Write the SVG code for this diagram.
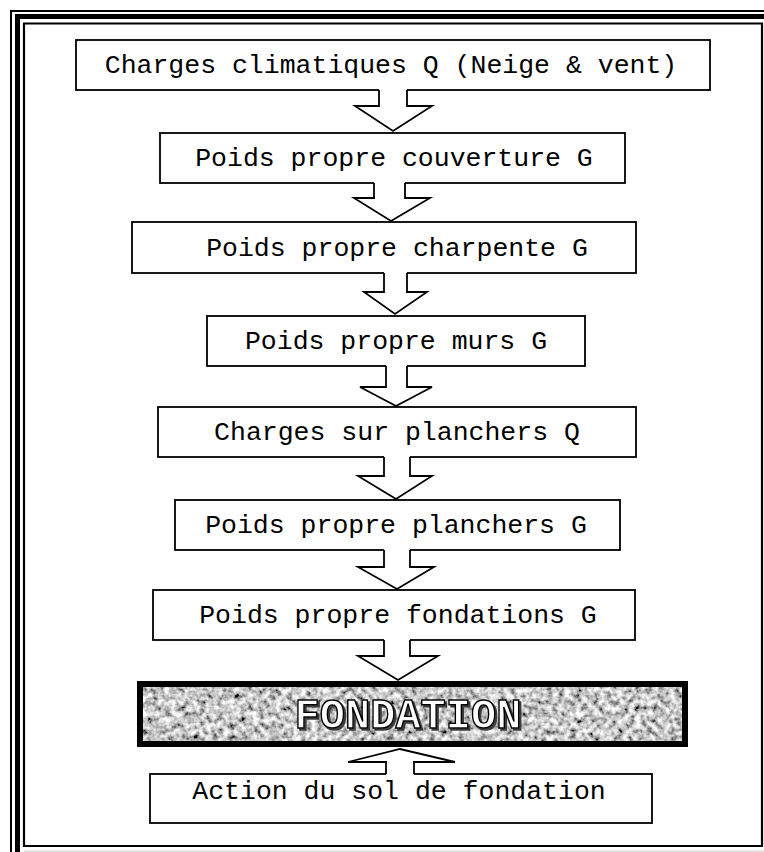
<svg xmlns="http://www.w3.org/2000/svg" width="764" height="852" viewBox="0 0 764 852">
  <style>
    .box { fill: #ffffff; stroke: #000000; stroke-width: 1.8; }
    .lbl { font-family: "Liberation Mono", "Courier New", monospace; font-size: 26.5px; fill: #000000; text-anchor: middle; }
    .afill { fill: #ffffff; stroke: none; }
    .aline { fill: none; stroke: #000000; stroke-width: 1.8; stroke-linejoin: miter; }
    .big { font-family: "Liberation Mono", "Courier New", monospace; font-size: 42px; font-weight: bold; text-anchor: middle; }
  </style>
  <defs>
    <filter id="granite" x="0" y="0" width="100%" height="100%" filterUnits="objectBoundingBox">
      <feTurbulence type="fractalNoise" baseFrequency="0.17" numOctaves="3" seed="7" result="n"/>
      <feColorMatrix in="n" type="matrix" values="1.8 0 0 0 -0.32  1.8 0 0 0 -0.32  1.8 0 0 0 -0.32  0 0 0 0 1"/>
    </filter>
    <filter id="emboss" x="-5%" y="-20%" width="110%" height="140%">
      <feOffset in="SourceAlpha" dx="2" dy="2" result="o"/>
      <feFlood flood-color="#3a3a3a" result="c"/>
      <feComposite in="c" in2="o" operator="in" result="s"/>
      <feMerge><feMergeNode in="s"/><feMergeNode in="SourceGraphic"/></feMerge>
    </filter>
  </defs>
  <rect width="764" height="852" fill="#ffffff"/>

  <!-- page border -->
  <g id="border" fill="none" stroke="#000000">
    <path d="M11,852 V11 H764" stroke-width="2"/>
    <path d="M17.5,852 V16.5 H764" stroke-width="5"/>
    <path d="M24,23.5 H762 V846 H24 Z" stroke-width="2.2"/>
    <path d="M24,851 H764" stroke="#cccccc" stroke-width="1"/>
  </g>

  <g id="n1"><rect class="box" x="76" y="40" width="634" height="50"/><text class="lbl" x="391" y="73">Charges climatiques Q (Neige &amp; vent)</text></g>
  <g id="n2"><rect class="box" x="160" y="133" width="465" height="50"/><text class="lbl" x="394" y="166">Poids propre couverture G</text></g>
  <g id="n3"><rect class="box" x="132" y="222" width="504" height="51"/><text class="lbl" x="397" y="256">Poids propre charpente G</text></g>
  <g id="n4"><rect class="box" x="207" y="316" width="378" height="50"/><text class="lbl" x="396" y="349">Poids propre murs G</text></g>
  <g id="n5"><rect class="box" x="158" y="407" width="478" height="50"/><text class="lbl" x="397" y="440">Charges sur planchers Q</text></g>
  <g id="n6"><rect class="box" x="175" y="500" width="445" height="50"/><text class="lbl" x="396" y="533">Poids propre planchers G</text></g>
  <g id="n7"><rect class="box" x="153" y="590" width="482" height="50"/><text class="lbl" x="398" y="623">Poids propre fondations G</text></g>
  <g id="n8">
    <rect x="140" y="684" width="545" height="60" filter="url(#granite)"/>
    <rect x="140" y="684" width="545" height="60" fill="none" stroke="#000000" stroke-width="6"/>
    <text class="big" x="408" y="728" fill="#ffffff" stroke="#000000" stroke-width="1.4" filter="url(#emboss)">FONDATION</text>
  </g>
  <g id="n9"><rect class="box" x="150" y="774" width="502" height="49"/><text class="lbl" x="399" y="799">Action du sol de fondation</text></g>

  <g id="connectors">
    <polygon class="afill" points="379,88.5 379,106 355,106 393,131 432,106 407,106 407,88.5"/>
    <path class="aline" d="M379,90 V106 H355 L393,131 L432,106 H407 V90"/>
    <polygon class="afill" points="374,181.5 374,198 354,198 391,221 430,198 405,198 405,181.5"/>
    <path class="aline" d="M374,183 V198 H354 L391,221 L430,198 H405 V183"/>
    <polygon class="afill" points="384,271.5 384,292 364,292 395,314 427,292 407,292 407,271.5"/>
    <path class="aline" d="M384,273 V292 H364 L395,314 L427,292 H407 V273"/>
    <polygon class="afill" points="386,364.5 386,387 360,387 396,406 432,387 407,387 407,364.5"/>
    <path class="aline" d="M386,366 V387 H360 L396,406 L432,387 H407 V366"/>
    <polygon class="afill" points="384,455.5 384,476 358,476 396,499 432,476 410,476 410,455.5"/>
    <path class="aline" d="M384,457 V476 H358 L396,499 L432,476 H410 V457"/>
    <polygon class="afill" points="384,548.5 384,567 358,567 397,589 434,567 410,567 410,548.5"/>
    <path class="aline" d="M384,550 V567 H358 L397,589 L434,567 H410 V550"/>
    <polygon class="afill" points="384,638.5 384,656 358,656 398,680 438,656 410,656 410,638.5"/>
    <path class="aline" d="M384,640 V656 H358 L398,680 L438,656 H410 V640"/>
    <polygon class="afill" points="386,775.5 386,762 348,762 400,749 455,762 414,762 414,775.5"/>
    <path class="aline" d="M386,774 V762 H348 L400,749 L455,762 H414 V774"/>
  </g>
</svg>
